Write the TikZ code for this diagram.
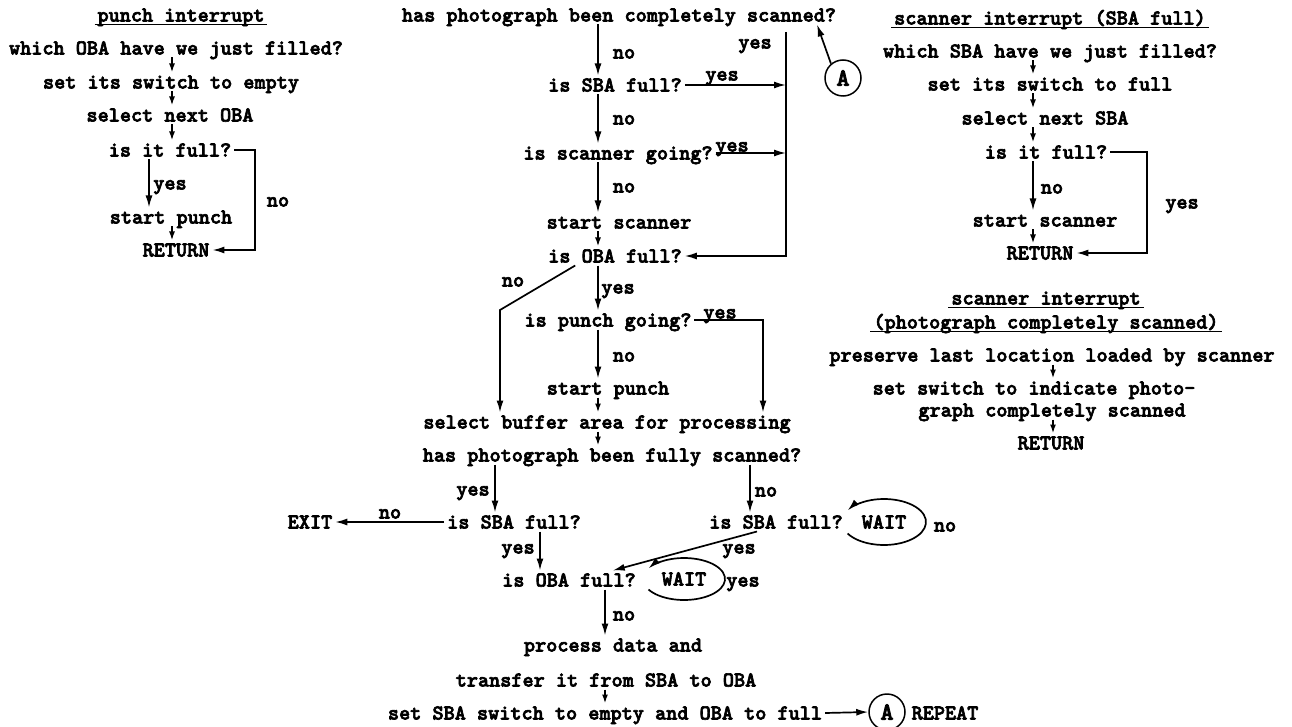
\documentclass[tikz,border=0pt]{standalone}
\usepackage{fontspec}
\usetikzlibrary{arrows.meta,calc}
\newfontfamily\tw{lmmonolt10-bold}[Extension=.otf, FakeBold=3]
\tikzset{
  t/.style={inner sep=3pt, outer sep=0pt, text height=13pt, text depth=0pt, font=\tw\fontsize{21.2}{24}\selectfont},
  lbl/.style={t, inner sep=1pt},
  ln/.style={line width=1.7pt},
  ul/.style={line width=1.3pt},
  arr/.style={ln, -{Latex[length=12pt,width=7pt]}},
  sarr/.style={ln, -{Latex[length=9pt,width=6pt]}},
  circ/.style={circle, draw, line width=1.5pt, minimum size=36pt, inner sep=0pt, font=\tw\fontsize{25}{26}\selectfont},
}
\begin{document}
\begin{tikzpicture}[x=1pt,y=-1pt]
\fill[white] (0,0) rectangle (1292,727);
\useasboundingbox (0,0) rectangle (1292,727);

% ---------- punch interrupt ----------
\node[t] (p0) at (181,15) {punch interrupt};
\draw[ul] (p0.south west) -- (p0.south east);
\node[t] (p1) at (176,48) {which OBA have we just filled?};
\node[t] (p2) at (171,82) {set its switch to empty};
\node[t] (p3) at (170,115) {select next OBA};
\node[t] (p4) at (170,150) {is it full?};
\node[t] (p5) at (171,217) {start punch};
\node[t] (p6) at (176,250) {RETURN};
\coordinate (px) at (172,0);
\coordinate (py) at (149,0);
\coordinate (pr) at (255,0);
\draw[sarr] (p1.south -| px) -- (p2.north -| px);
\draw[sarr] (p2.south -| px) -- (p3.north -| px);
\draw[sarr] (p3.south -| px) -- (p4.north -| px);
\draw[arr] (p4.south -| py) -- (p5.north -| py);
\node[lbl] (py1) at (170,183) {yes};
\draw[sarr] (p5.south -| px) -- (p6.north -| px);
\draw[arr] (p4.east) -- (p4.east -| pr) -- (p6.east -| pr) -- (p6.east);
\node[lbl] (pn1) at (278,200) {no};

% ---------- main column ----------
\node[t] (m0) at (619,15) {has photograph been completely scanned?};
\node[t] (m1) at (615,85) {is SBA full?};
\node[t] (m2) at (618,153) {is scanner going?};
\node[t] (m3) at (619,222) {start scanner};
\node[t] (m4) at (615,256) {is OBA full?};
\coordinate (mx) at (598,0);
\coordinate (vr) at (786,32);
\draw[arr] (m0.south -| mx) -- (m1.north -| mx);
\node[lbl] (mn1) at (624,52) {no};
\draw[arr] (m1.south -| mx) -- (m2.north -| mx);
\node[lbl] (mn2) at (624,118) {no};
\draw[arr] (m2.south -| mx) -- (m3.north -| mx);
\node[lbl] (mn3) at (624,186) {no};
\draw[sarr] (m3.south -| mx) -- (m4.north -| mx);
\draw[arr] (vr) |- (m4.east);
\node[lbl] (my0) at (755,42) {yes};
\draw[arr] (m1.east) -- (m1.east -| vr);
\node[lbl] (my1) at (722,74) {yes};
\draw[arr] (m2.east) -- (m2.east -| vr);
\node[lbl] (my2) at (732,145) {yes};
\node[circ] (A1) at (843,78) {A};
\draw[arr] (A1.130) -- ([xshift=-22pt]m0.south east);

% no branch from is OBA full
\node[t] (m6) at (608,320) {is punch going?};
\node[t] (m7) at (608,388) {start punch};
\node[t] (m8) at (607,422) {select buffer area for processing};
\node[t] (m9) at (612,455) {has photograph been fully scanned?};
\coordinate (nb) at (500,310);
\draw[arr] ([xshift=30pt]m4.south west) -- (nb) -- (m8.north -| nb);
\node[lbl] (mn4) at (513,280) {no};
\draw[arr] (m4.south -| mx) -- (m6.north -| mx);
\node[lbl] (my4) at (618,287) {yes};
\coordinate (pg) at (763,0);
\draw[arr] (m6.east) -| (m8.north -| pg);
\node[lbl] (my5) at (720,312) {yes};
\draw[arr] (m6.south -| mx) -- (m7.north -| mx);
\node[lbl] (mn5) at (624,355) {no};
\draw[sarr] (m7.south -| mx) -- (m8.north -| mx);
\draw[sarr] (m8.south -| mx) -- (m9.north -| mx);

% lower part
\node[t] (m10) at (514,522) {is SBA full?};
\node[t] (exit) at (310,522) {EXIT};
\node[t] (m11) at (569,580) {is OBA full?};
\node[t] (w1) at (684,579) {WAIT};
\node[t] (m12) at (613,645) {process data and};
\node[t] (m13) at (606,680) {transfer it from SBA to OBA};
\node[t] (m14) at (605,713) {set SBA switch to empty and OBA to full};
\node[circ] (A2) at (887,712) {A};
\node[t] (rep) at (945,713) {REPEAT};
\coordinate (lx) at (495,0);
\coordinate (lx2) at (540,0);
\coordinate (lx3) at (605,0);
\draw[arr] (m9.south -| lx) -- (m10.north -| lx);
\node[lbl] (ly1) at (473,489) {yes};
\draw[arr] (m10.west) -- (exit.east);
\node[lbl] (ln1) at (390,512) {no};
\draw[arr] (m10.south -| lx2) -- (m11.north -| lx2);
\node[lbl] (ly2) at (518,547) {yes};
\draw[arr] ([shift={(-35.5,10.5)}]w1.center) arc[start angle=150, end angle=-150, x radius=41, y radius=21];
\node[lbl] (ly3) at (743,580) {yes};
\draw[arr] (m11.south -| lx3) -- (m12.north -| lx3);
\node[lbl] (ln2) at (624,614) {no};
\draw[sarr] (m13.south -| lx3) -- (m14.north -| lx3);
\draw[arr] (m14.east) -- (A2.west);

% right branch
\node[t] (r1) at (776,522) {is SBA full?};
\node[t] (w2) at (884,522) {WAIT};
\coordinate (rx) at (750,0);
\draw[arr] (m9.south -| rx) -- (r1.north -| rx);
\node[lbl] (rn1) at (766,490) {no};
\draw[arr] ([shift={(-36.4,11.5)}]w2.center) arc[start angle=150, end angle=-150, x radius=42, y radius=23];
\node[lbl] (rn2) at (945,525) {no};
\draw[arr] ([xshift=-19pt]r1.south) -- ([xshift=-26pt]m11.north east);
\node[lbl] (ry1) at (739,547) {yes};

% ---------- scanner interrupt (SBA full) ----------
\node[t] (s0) at (1050,18) {scanner interrupt (SBA full)};
\draw[ul] (s0.south west) -- (s0.south east);
\node[t] (s1) at (1050,51) {which SBA have we just filled?};
\node[t] (s2) at (1050,84) {set its switch to full};
\node[t] (s3) at (1045,118) {select next SBA};
\node[t] (s4) at (1046,152) {is it full?};
\node[t] (s5) at (1045,220) {start scanner};
\node[t] (s6) at (1040,253) {RETURN};
\coordinate (sx) at (1033,0);
\coordinate (sr) at (1147,0);
\draw[sarr] (s1.south -| sx) -- (s2.north -| sx);
\draw[sarr] (s2.south -| sx) -- (s3.north -| sx);
\draw[sarr] (s3.south -| sx) -- (s4.north -| sx);
\draw[arr] (s4.south -| sx) -- (s5.north -| sx);
\node[lbl] (sn1) at (1052,187) {no};
\draw[sarr] (s5.south -| sx) -- (s6.north -| sx);
\draw[arr] (s4.east) -- (s4.east -| sr) -- (s6.east -| sr) -- (s6.east);
\node[lbl] (sy1) at (1182,202) {yes};

% ---------- scanner interrupt (photograph completely scanned) ----------
\node[t] (q0) at (1046,298) {scanner interrupt};
\draw[ul] (q0.south west) -- (q0.south east);
\node[t] (q1) at (1046,322) {(photograph completely scanned)};
\draw[ul] (q1.south west) -- (q1.south east);
\node[t] (q2) at (1052,355) {preserve last location loaded by scanner};
\node[t] (q3) at (1034,388) {set switch to indicate photo-};
\node[t] (q4) at (1052,410) {graph completely scanned};
\node[t] (q5) at (1051,443) {RETURN};
\coordinate (qx) at (1053,0);
\draw[sarr] (q2.south -| qx) -- (q3.north -| qx);
\draw[sarr] (q4.south -| qx) -- (q5.north -| qx);
\end{tikzpicture}
\end{document}
